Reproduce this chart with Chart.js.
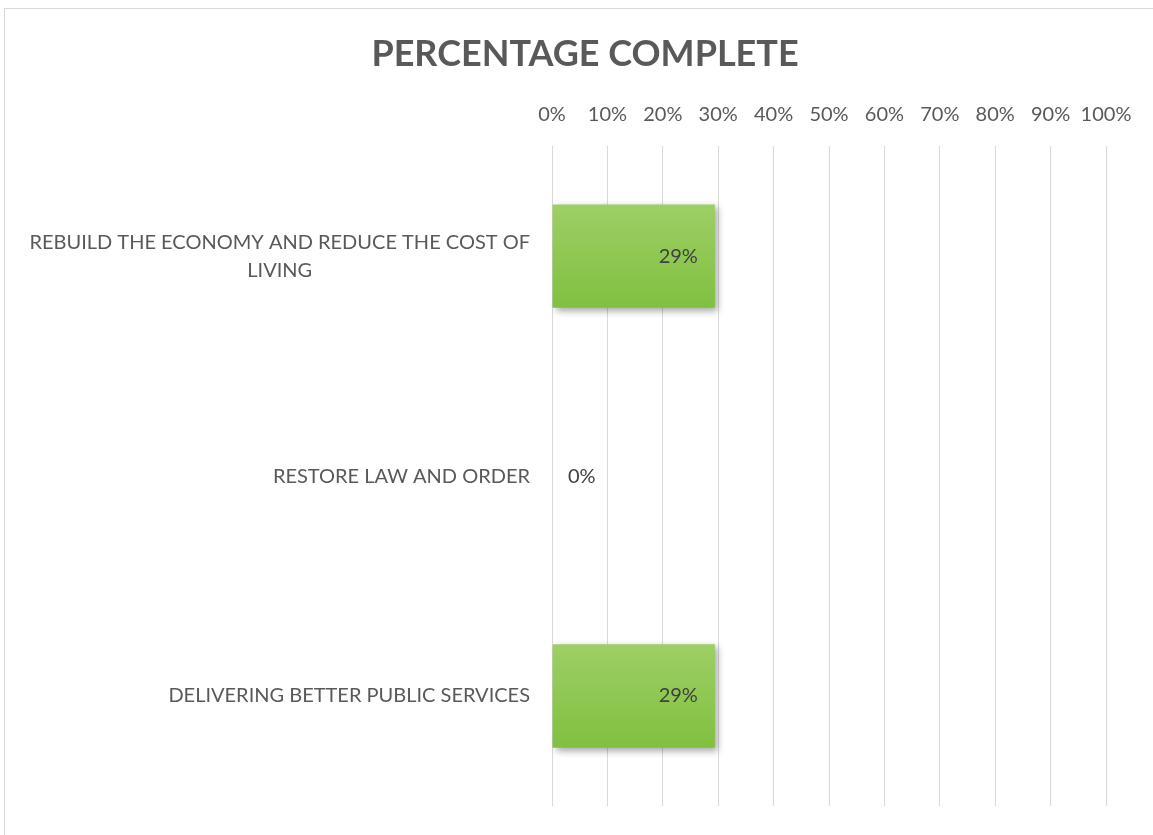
<!DOCTYPE html>
<html>
<head>
<meta charset="utf-8">
<script src="https://cdn.jsdelivr.net/npm/chart.js@4/dist/chart.umd.min.js"></script>
<style>
  body { margin: 0; background: #fff; overflow: hidden; }
  #frame { position: absolute; left: 4px; top: 8px; width: 1200px; height: 900px; border: 1px solid #d9d9d9; }
  #chart { position: absolute; left: 0; top: 0; }
</style>
</head>
<body>
<div id="frame"></div>
<canvas id="chart" width="1153" height="835"></canvas>
<script>
const categories = [
    ['REBUILD THE ECONOMY AND REDUCE THE COST OF', 'LIVING'],
    'RESTORE LAW AND ORDER',
    'DELIVERING BETTER PUBLIC SERVICES'
];
const percentComplete = [29.4, 0, 29.4];
const xTicks = [0, 10, 20, 30, 40, 50, 60, 70, 80, 90, 100];

const fontFamily = 'Lato, "Open Sans", sans-serif';
const barPct = 0.47;

// bar gradient, top to bottom of each bar
function barFill(c) {
    const chart = c.chart;
    const y = chart.scales.y;
    if (!y || !chart.chartArea) return '#8dc63f';
    const cy = y.getPixelForValue(c.dataIndex);
    const half = (chart.chartArea.height / categories.length) * barPct / 2;
    const g = chart.ctx.createLinearGradient(0, cy - half, 0, cy + half);
    g.addColorStop(0, '#9ecf66');
    g.addColorStop(1, '#80c040');
    return g;
}

const barShadow = {
    id: 'barShadow',
    beforeDatasetDraw(chart) {
        const ctx = chart.ctx;
        ctx.save();
        ctx.shadowColor = 'rgba(0,0,0,0.35)';
        ctx.shadowBlur = 7;
        ctx.shadowOffsetX = 3;
        ctx.shadowOffsetY = 3;
    },
    afterDatasetDraw(chart) {
        chart.ctx.restore();
    }
};

const valueLabels = {
    id: 'valueLabels',
    afterDatasetsDraw(chart) {
        const ctx = chart.ctx;
        const meta = chart.getDatasetMeta(0);
        ctx.save();
        ctx.font = '20px ' + fontFamily;
        ctx.fillStyle = '#404040';
        ctx.textBaseline = 'middle';
        meta.data.forEach((bar, i) => {
            const txt = Math.round(percentComplete[i]) + '%';
            if (bar.x - bar.base > 60) {
                ctx.textAlign = 'right';
                ctx.fillText(txt, bar.x - 17, bar.y);
            } else {
                ctx.textAlign = 'left';
                ctx.fillText(txt, bar.base + 16, bar.y);
            }
        });
        ctx.restore();
    }
};

// category labels: block right-aligned, lines centred inside the block
const categoryLabels = {
    id: 'categoryLabels',
    afterDraw(chart) {
        const ctx = chart.ctx;
        const y = chart.scales.y;
        const right = y.right - 22;
        const lh = 28;
        ctx.save();
        ctx.font = '20px ' + fontFamily;
        ctx.fillStyle = '#595959';
        ctx.textBaseline = 'middle';
        ctx.textAlign = 'center';
        categories.forEach((cat, i) => {
            const lines = [].concat(cat);
            const w = Math.max(...lines.map(l => ctx.measureText(l).width));
            const cx = right - w / 2;
            const cy = y.getPixelForTick(i);
            const top = cy - (lines.length - 1) * lh / 2;
            lines.forEach((l, j) => ctx.fillText(l, cx, top + j * lh));
        });
        ctx.restore();
    }
};

const chart = new Chart(document.getElementById('chart'), {
    type: 'bar',
    data: {
        labels: categories,
        datasets: [{
            data: percentComplete,
            backgroundColor: barFill,
            borderWidth: 0,
            barPercentage: barPct,
            categoryPercentage: 1
        }]
    },
    options: {
        indexAxis: 'y',
        responsive: false,
        animation: false,
        layout: { padding: { top: 33, right: 47, bottom: 29, left: 64 } },
        scales: {
            x: {
                position: 'top',
                min: 0,
                max: 100,
                afterBuildTicks: (scale) => { scale.ticks = xTicks.map(v => ({ value: v })); },
                grid: { color: '#d9d9d9', drawTicks: false },
                border: { display: false },
                ticks: {
                    padding: 20,
                    color: '#595959',
                    autoSkip: false,
                    minRotation: 0,
                    maxRotation: 0,
                    font: { family: fontFamily, size: 20 },
                    callback: (v) => v + '%'
                },
                afterFit: (scale) => { scale.height = 50; }
            },
            y: {
                grid: { display: false },
                border: { display: false },
                ticks: { display: false },
                afterFit: (scale) => { scale.width = 488; }
            }
        },
        plugins: {
            legend: { display: false },
            tooltip: { enabled: false },
            title: {
                display: true,
                text: 'PERCENTAGE COMPLETE',
                color: '#595959',
                font: { family: fontFamily, size: 36, weight: 'bold' },
                padding: { top: 0, bottom: 20 }
            }
        }
    },
    plugins: [barShadow, valueLabels, categoryLabels]
});
</script>
</body>
</html>
